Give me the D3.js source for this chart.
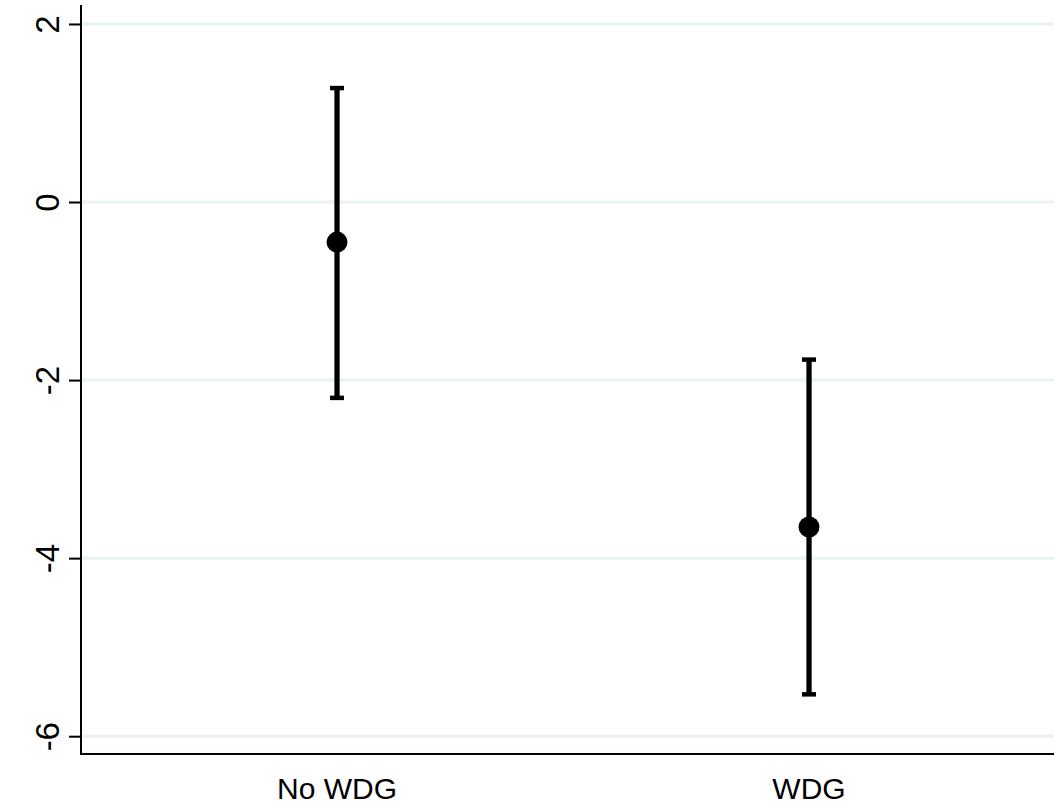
<!DOCTYPE html>
<html>
<head>
<meta charset="utf-8">
<script src="https://cdn.jsdelivr.net/npm/d3@7"></script>
<style>
  html, body { margin: 0; padding: 0; background: #fff; }
  svg { display: block; }
  text { font-family: "Liberation Sans", Arial, sans-serif; fill: #000; }
</style>
</head>
<body>
<svg id="chart" width="1054" height="810"></svg>
<script>
// Group estimates with 95% confidence bounds
const groups = ["No WDG", "WDG"];
const estimates = [-0.45, -3.65];
const lowerBounds = [-2.20, -5.53];
const upperBounds = [1.28, -1.77];
const yTicks = [-6, -4, -2, 0, 2];

const W = 1054, H = 810;
const plot = { left: 81, right: 1054, top: 5, bottom: 754 };

const svg = d3.select("#chart");

const x = d3.scaleLinear()
  .domain([0.4576, 2.519])
  .range([plot.left, plot.right]);

const y = d3.scaleLinear()
  .domain([-6.2, 2.213])
  .range([plot.bottom, plot.top]);

// Horizontal gridlines
svg.append("g")
  .selectAll("line")
  .data(yTicks)
  .join("line")
  .attr("x1", plot.left + 1)
  .attr("x2", plot.right)
  .attr("y1", d => y(d))
  .attr("y2", d => y(d))
  .attr("stroke", "#eaf2f3")
  .attr("stroke-width", 3);

// Y axis (plain hyphen for negatives)
const yAxis = svg.append("g")
  .attr("transform", `translate(${plot.left},0)`)
  .call(d3.axisLeft(y).tickValues(yTicks).tickSize(12).tickPadding(10).tickFormat(d => String(d)));
yAxis.select(".domain").remove();
yAxis.selectAll(".tick line").attr("stroke", "#000").attr("stroke-width", 2);
yAxis.selectAll(".tick text")
  .attr("font-size", 33)
  .attr("font-family", "'Liberation Sans', Arial, sans-serif")
  .attr("transform", "rotate(-90)")
  .attr("text-anchor", "middle")
  .attr("x", 0)
  .attr("y", -22)
  .attr("dy", 0);

svg.append("line")
  .attr("x1", plot.left).attr("x2", plot.left)
  .attr("y1", plot.top).attr("y2", plot.bottom + 1)
  .attr("stroke", "#000").attr("stroke-width", 2);

// X axis line
svg.append("line")
  .attr("x1", plot.left).attr("x2", plot.right)
  .attr("y1", plot.bottom).attr("y2", plot.bottom)
  .attr("stroke", "#000").attr("stroke-width", 2);

// Category labels
svg.append("g")
  .selectAll("text")
  .data(groups)
  .join("text")
  .attr("x", (d, i) => x(i + 1))
  .attr("y", 799)
  .attr("text-anchor", "middle")
  .attr("font-size", 30)
  .text(d => d);

// Confidence intervals
const ci = svg.append("g");
groups.forEach((g, i) => {
  const cx = x(i + 1);
  ci.append("line")
    .attr("x1", cx).attr("x2", cx)
    .attr("y1", y(upperBounds[i])).attr("y2", y(lowerBounds[i]))
    .attr("stroke", "#000").attr("stroke-width", 5.3);
  [upperBounds[i], lowerBounds[i]].forEach(v => {
    ci.append("line")
      .attr("x1", cx - 7).attr("x2", cx + 7)
      .attr("y1", y(v)).attr("y2", y(v))
      .attr("stroke", "#000").attr("stroke-width", 4.5);
  });
});

// Point estimates
svg.append("g")
  .selectAll("circle")
  .data(estimates)
  .join("circle")
  .attr("cx", (d, i) => x(i + 1))
  .attr("cy", d => y(d))
  .attr("r", 10.5)
  .attr("fill", "#000");
</script>
</body>
</html>
